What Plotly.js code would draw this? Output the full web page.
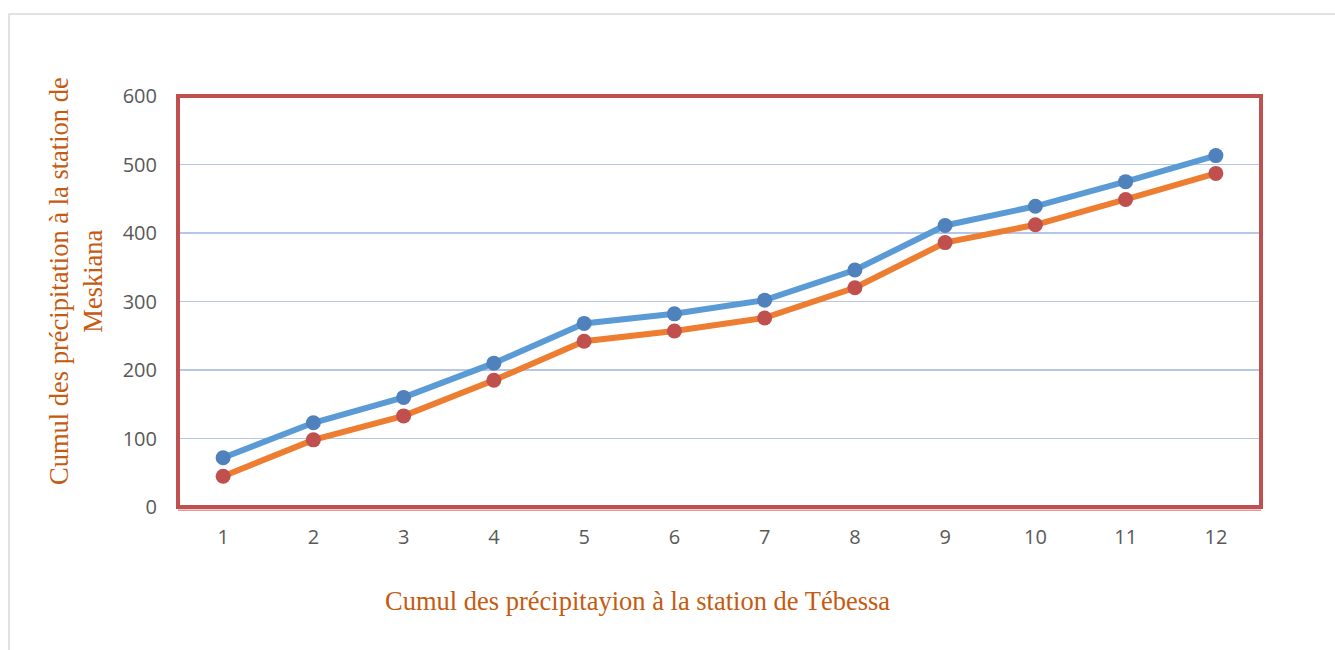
<!DOCTYPE html>
<html>
<head>
<meta charset="utf-8">
<script src="https://cdn.plot.ly/plotly-3.0.1.min.js"></script>
<style>html,body{margin:0;padding:0;background:#fff;}#chart{width:1335px;height:650px;}</style>
</head>
<body>
<div id="chart"></div>
<script>
var months = [1,2,3,4,5,6,7,8,9,10,11,12];
var tickLabels = ['1','2','3','4','5','6','7','8','9','10','11','12'];
var meskiana = [72,123,160,210,268,282,302,346,411,439,475,513];
var tebessa = [45,98,133,185,242,257,276,320,386,412,449,487];
var yTicks = [0,100,200,300,400,500,600];
var xTitle = 'Cumul des précipitayion à la station de Tébessa';
var yTitle = 'Cumul des précipitation à la station de<br>Meskiana';

var traces = [
  {x: months, y: meskiana, type: 'scatter', mode: 'lines+markers', name: 'Meskiana',
   line: {color: '#5b9bd5', width: 6}, marker: {color: '#4f81bd', size: 15}},
  {x: months, y: tebessa, type: 'scatter', mode: 'lines+markers', name: 'Tébessa',
   line: {color: '#ed7d31', width: 6}, marker: {color: '#c0504d', size: 15}}
];

var titleFont = {family: 'Liberation Serif, serif', size: 26.5, color: '#c55a11'};

var layout = {
  width: 1335, height: 650,
  margin: {l: 178, r: 74, t: 96, b: 143},
  paper_bgcolor: '#ffffff', plot_bgcolor: '#ffffff',
  showlegend: false,
  font: {family: 'Open Sans, sans-serif', color: '#595959', size: 20},
  xaxis: {
    range: [0.5, 12.5], tickvals: months, ticktext: tickLabels,
    showgrid: false, zeroline: false, showline: false, ticks: '',
    ticklabelstandoff: 16, tickfont: {size: 20, color: '#595959'}
  },
  yaxis: {
    range: [0, 600], tickvals: yTicks, showgrid: true, gridcolor: '#b4c7e7', gridwidth: 1.3,
    zeroline: false, showline: false, ticks: '',
    ticklabelstandoff: 20, tickfont: {size: 20, color: '#595959'}
  },
  annotations: [
    {text: xTitle, xref: 'paper', yref: 'paper', x: (637 - 178) / 1083, y: (507 - 601) / 411,
     xanchor: 'center', yanchor: 'middle', showarrow: false, font: titleFont},
    {text: yTitle, xref: 'paper', yref: 'paper', x: (76 - 178) / 1083, y: (507 - 281) / 411,
     xanchor: 'center', yanchor: 'middle', showarrow: false, textangle: -90, font: titleFont}
  ],
  shapes: [
    {type: 'rect', xref: 'paper', yref: 'paper', x0: -0.156, x1: 1.2, y0: -0.5, y1: 1.1995,
     line: {color: '#d9d9d9', width: 1.5}, fillcolor: 'rgba(0,0,0,0)', layer: 'below'},
    {type: 'line', xref: 'paper', yref: 'paper', x0: 0, x1: 1, y0: -0.008, y1: -0.008,
     line: {color: '#e39a98', width: 1.5}},
    {type: 'rect', xref: 'paper', yref: 'paper', x0: 0, x1: 1, y0: 0, y1: 1,
     line: {color: '#c0504d', width: 4}, fillcolor: 'rgba(0,0,0,0)'}
  ]
};

Plotly.newPlot('chart', traces, layout, {displayModeBar: false, staticPlot: true});
</script>
</body>
</html>
